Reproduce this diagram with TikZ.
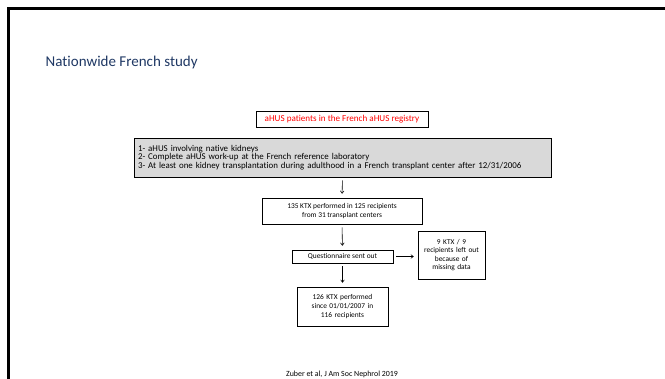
\documentclass[tikz,border=0pt]{standalone}
\usepackage{fontspec}
\setmainfont[Ligatures=NoCommon]{Carlito}
\usetikzlibrary{arrows.meta}

\definecolor{titleblue}{HTML}{1F3864}
\definecolor{boxgray}{HTML}{D9D9D9}
\definecolor{regred}{HTML}{FF0000}

\tikzset{
  box/.style={draw, line width=0.7pt, fill=white, align=center, inner sep=1pt,
    font=\fontsize{7.4}{8.6}\selectfont},
  flow/.style={-{To[length=3pt,width=4pt]}, line width=0.6pt, shorten <=3pt, shorten >=4pt}
}

\begin{document}
\begin{tikzpicture}[x=1pt, y=-1pt]
    \useasboundingbox (0,0) rectangle (665,379);

    % slide frame (top and left edges)
    \draw[line width=3pt] (8.5,380) -- (8.5,8.5) -- (666,8.5);

    % title
    \node[anchor=west, text=titleblue, inner sep=0pt, font=\fontsize{15}{17}\selectfont]
      (title) at (45.5,63) {Nationwide French study};

    % registry
    \node[box, text=regred, minimum width=172pt, minimum height=16pt,
      font=\fontsize{9.1}{10}\selectfont] (registry) at (342,119)
      {aHUS patients in the French aHUS registry};

    % inclusion criteria
    \node[box, fill=boxgray, align=left, text width=409pt, minimum height=39pt, inner sep=4pt,
      font=\fontsize{8.9}{8.6}\selectfont] (criteria) at (342.5,157.5)
      {1- aHUS involving native kidneys\\
       2- Complete aHUS work-up at the French reference laboratory\\
       3- At least one kidney transplantation during adulthood in a French transplant center after 12/31/2006};

    % flow boxes
    \node[box, minimum width=160pt, minimum height=26pt] (ktx) at (342,211)
      {135 KTX performed in 125 recipients\\from 31 transplant centers};
    \node[box, minimum width=101pt, minimum height=13pt] (quest) at (342.5,256.5)
      {Questionnaire sent out};
    \node[box, text width=65pt, minimum height=48pt] (leftout) at (451.5,255)
      {9 KTX / 9\\recipients left out\\because of\\missing data};
    \node[box, text width=89pt, minimum height=39pt] (final) at (342.5,306.5)
      {126 KTX performed\\since 01/01/2007 in\\116 recipients};

    % arrows
    \draw[flow] (criteria.south) -- (ktx.north);
    \draw[flow] (ktx.south) -- (quest.north);
    \draw[flow] (quest.south) -- (final.north);
    \draw[flow] (quest.east) -- (quest.east -| leftout.west);

    % reference
    \node[font=\fontsize{7.9}{9}\selectfont, inner sep=0pt] (ref) at (342,374)
      {Zuber et al, J Am Soc Nephrol 2019};
\end{tikzpicture}
\end{document}
